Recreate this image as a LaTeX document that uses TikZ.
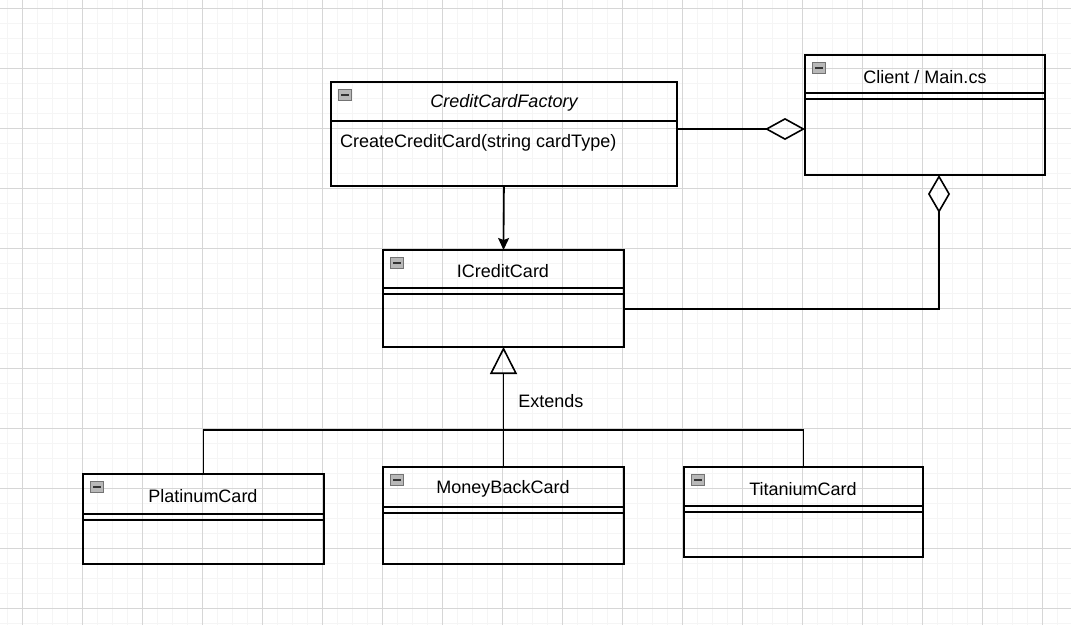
\documentclass[tikz,border=0pt]{standalone}
\usepackage{fontspec}
\setmainfont{Liberation Sans}
\usepackage{tikz}
\usetikzlibrary{arrows.meta}

\tikzset{
	gridminor/.style={draw=black!4, line width=1pt},
	gridmajor/.style={draw=black!16, line width=1pt},
	cls/.style={draw, rectangle, line width=1.6pt, inner sep=0pt, outer sep=0pt, anchor=north west},
	title/.style={inner sep=0pt, yshift=-2pt, font=\fontsize{18}{21}\selectfont},
	icon/.style={draw=black!55, fill=black!28, line width=0.8pt, minimum width=13pt, minimum height=11pt, inner sep=0pt,
		path picture={\draw[black!80,line width=1.6pt] ([xshift=2.5pt]path picture bounding box.west) -- ([xshift=-2.5pt]path picture bounding box.east);}},
	conn/.style={line width=1.6pt},
}

\begin{document}
\begin{tikzpicture}[x=1pt,y=-1pt]
	\useasboundingbox (0,0) rectangle (1071,625);
	\fill[white] (0,0) rectangle (1071,625);
	% grid
	\foreach \x in {7,22,...,1071} \draw[gridminor] (\x,0) -- (\x,625);
	\foreach \y in {8,23,...,625} \draw[gridminor] (0,\y) -- (1071,\y);
	\foreach \x in {22,82,...,1071} \draw[gridmajor] (\x,0) -- (\x,625);
	\foreach \y in {8,68,...,625} \draw[gridmajor] (0,\y) -- (1071,\y);
	%
	\node[cls, minimum width=346pt, minimum height=104pt] (fac) at (331,82) {};
	\node[icon] (facI) at (345,95) {};
	\node[title] (facT) at (504,101) {\itshape CreditCardFactory};
	\draw[conn] (fac.west |- 0,121) -- (fac.east |- 0,121);
	\node[title, anchor=west] (facM) at (340,141) {CreateCreditCard(string cardType)};
	%
	\node[cls, minimum width=240pt, minimum height=120pt] (client) at (805,55) {};
	\node[icon] (clientI) at (819,68) {};
	\node[title] (clientT) at (925,75) {Client / Main.cs};
	\draw[conn] (client.west |- 0,93) -- (client.east |- 0,93);
	\draw[conn] (client.west |- 0,99) -- (client.east |- 0,99);
	%
	\node[cls, minimum width=241pt, minimum height=97pt] (icc) at (383,250) {};
	\node[icon] (iccI) at (397,263) {};
	\node[title] (iccT) at (503,269) {ICreditCard};
	\draw[conn] (icc.west |- 0,288) -- (icc.east |- 0,288);
	\draw[conn] (icc.west |- 0,294) -- (icc.east |- 0,294);
	%
	\node[cls, minimum width=241pt, minimum height=90pt] (plat) at (83,474) {};
	\node[icon] (platI) at (97,487) {};
	\node[title] (platT) at (203,494) {PlatinumCard};
	\draw[conn] (plat.west |- 0,514) -- (plat.east |- 0,514);
	\draw[conn] (plat.west |- 0,520) -- (plat.east |- 0,520);
	%
	\node[cls, minimum width=241pt, minimum height=97pt] (money) at (383,467) {};
	\node[icon] (moneyI) at (397,480) {};
	\node[title] (moneyT) at (503,487) {MoneyBackCard};
	\draw[conn] (money.west |- 0,507) -- (money.east |- 0,507);
	\draw[conn] (money.west |- 0,513) -- (money.east |- 0,513);
	%
	\node[cls, minimum width=239pt, minimum height=90pt] (tit) at (684,467) {};
	\node[icon] (titI) at (698,480) {};
	\node[title] (titT) at (803,487) {TitaniumCard};
	\draw[conn] (tit.west |- 0,506) -- (tit.east |- 0,506);
	\draw[conn] (tit.west |- 0,512) -- (tit.east |- 0,512);
	%
	\coordinate (join) at (money.north |- 0,430);
	\path[conn]
	(fac.south) edge[-{Stealth[length=12pt,width=11pt,inset=2pt]}] (icc.north)
	(fac.east |- 0,129) edge[-{Diamond[open,length=40pt,width=22pt]}] (client.west |- 0,129)
	(money.north) edge[-{Triangle[open,length=27pt,width=27pt]}] node[title, right=14pt, pos=0.57]{Extends} (icc.south);
	\draw[conn,-{Diamond[open,length=38pt,width=22pt]}] (icc.east |- 0,309) -| (client.south -| 939,0);
	\draw[conn] (plat.north) |- (join);
	\draw[conn] (tit.north) |- (join);
\end{tikzpicture}
\end{document}
